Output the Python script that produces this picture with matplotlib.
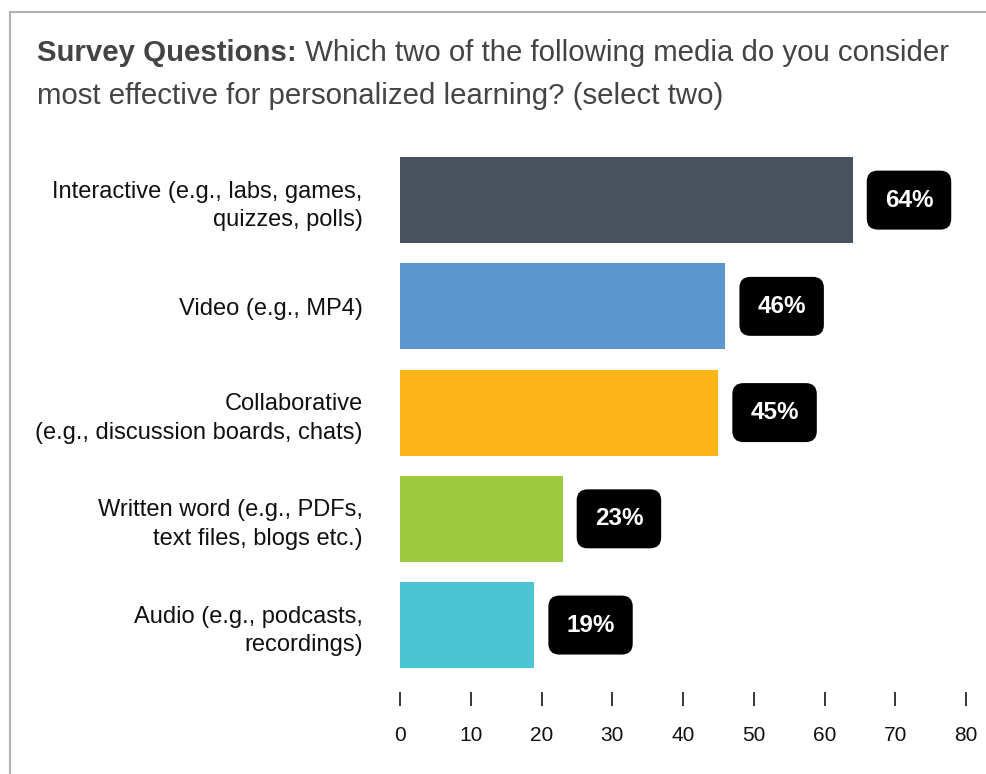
"""
Horizontal bar chart: preferred media for personalized learning (survey, select two).
"""

import matplotlib
matplotlib.use("Agg")
import matplotlib.pyplot as plt
from matplotlib.lines import Line2D

plt.rcParams["font.family"] = ["Liberation Sans", "DejaVu Sans"]

categories = [
    "Interactive (e.g., labs, games,\nquizzes, polls)",
    "Video (e.g., MP4)",
    "Collaborative\n(e.g., discussion boards, chats)",
    "Written word (e.g., PDFs,\ntext files, blogs etc.)",
    "Audio (e.g., podcasts,\nrecordings)",
]
values = [64, 46, 45, 23, 19]
bar_colors = ["#49525e", "#5b96cf", "#fbb519", "#9bc940", "#4dc4d4"]
x_ticks = [0, 10, 20, 30, 40, 50, 60, 70, 80]

title_bold = "Survey Questions:"
title_rest = " Which two of the following media do you consider"
title_line2 = "most effective for personalized learning? (select two)"

W, H = 986, 774
fig = plt.figure(figsize=(W / 100, H / 100), dpi=100)

# frame lines (top and left only, like the source card)
fig.add_artist(Line2D([10 / W, 1], [1 - 12 / H, 1 - 12 / H], color="#b0b0b0", lw=1.5))
fig.add_artist(Line2D([10 / W, 10 / W], [0, 1 - 12 / H], color="#b0b0b0", lw=1.5))

ax = fig.add_axes([400 / W, 1 - 692 / H, 566 / W, 545 / H])
ypos = list(range(len(categories)))
ax.barh(ypos, values, height=0.81, color=bar_colors)
ax.set_xlim(0, 80)
ax.set_ylim(4.63, -0.5)

for spine in ax.spines.values():
    spine.set_visible(False)

ax.set_xticks(x_ticks)
ax.set_xticklabels([str(t) for t in x_ticks])
ax.tick_params(axis="x", direction="out", length=10, width=1.1, color="black",
               pad=14.5, labelsize=15, labelcolor="#111111")
ax.set_yticks(ypos)
ax.set_yticklabels(categories, linespacing=1.38)
ax.tick_params(axis="y", length=0, pad=27, labelsize=17, labelcolor="#111111")
for lbl in ax.get_yticklabels():
    lbl.set_horizontalalignment("right")

for y, v in zip(ypos, values):
    ax.annotate(f"{v}%", xy=(v, y), xytext=(23, 0), textcoords="offset points",
                ha="left", va="center", fontsize=17.5, fontweight="bold", color="white",
                bbox=dict(boxstyle="round,pad=0.74,rounding_size=0.45", fc="black", ec="none"))

# title: bold lead-in followed by regular text
t1 = fig.text(37 / W, 1 - 61 / H, title_bold, fontsize=21.2, fontweight="bold",
              color="#444444", ha="left", va="baseline")
fig.canvas.draw()
bb = t1.get_window_extent(renderer=fig.canvas.get_renderer())
fig.text(bb.x1 / W, 1 - 61 / H, title_rest, fontsize=21.2, color="#444444",
         ha="left", va="baseline")
fig.text(37 / W, 1 - 104 / H, title_line2, fontsize=21.2, color="#444444",
         ha="left", va="baseline")

fig.savefig("out.png", dpi=100)
